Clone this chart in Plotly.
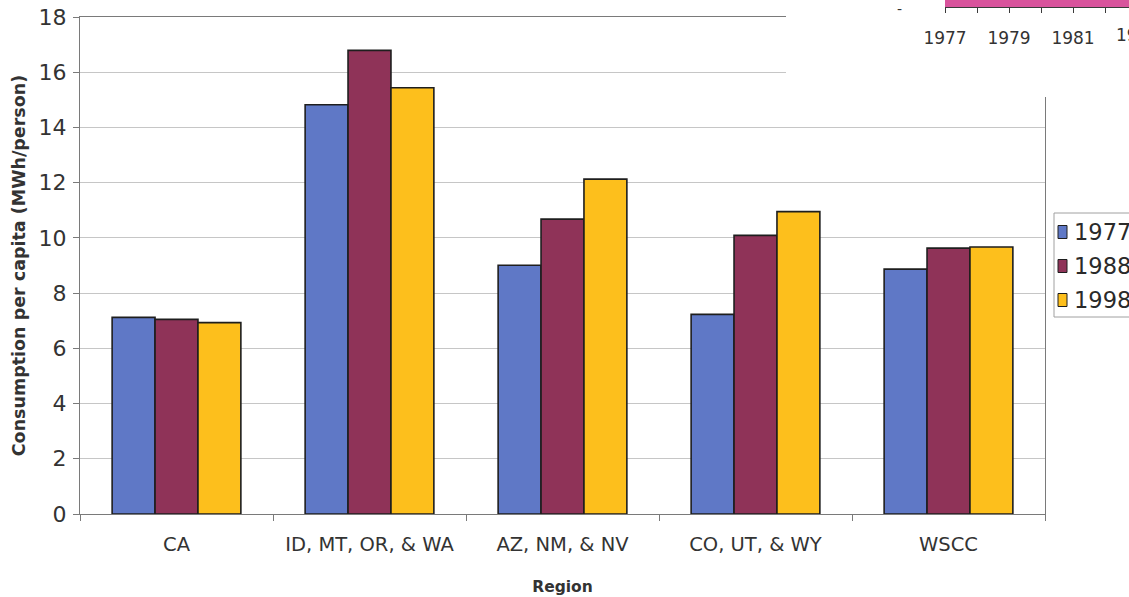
import plotly.graph_objects as go

# Per-capita electricity consumption by WSCC sub-region (MWh/person)
regions = ["CA", "ID, MT, OR, & WA", "AZ, NM, & NV", "CO, UT, & WY", "WSCC"]
years = ["1977", "1988", "1998"]
cons_1977 = [7.12, 14.82, 9.01, 7.23, 8.87]
cons_1988 = [7.05, 16.79, 10.68, 10.09, 9.63]
cons_1998 = [6.93, 15.44, 12.13, 10.95, 9.67]

# Neighbouring panel (annual series, only its lower strip shows)
inset_years = [1977, 1978, 1979, 1980, 1981, 1982, 1983]
inset_values = [3.1, 3.3, 3.2, 3.4, 3.5, 3.6, 3.7]
inset_ticktext = ["1977", "", "1979", "", "1981", "", "1983"]

colors = ["#5f78c6", "#8f3358", "#fdbf1c"]
series = [cons_1977, cons_1988, cons_1998]

W, H = 1129, 597
ML, MR, MT, MB = 80, 0, 0, 83
pw = W - ML - MR
ph = H - MT - MB


def px_x(x):
    return (x - ML) / pw


def px_y(y):
    return (H - MB - y) / ph


font_main = "DejaVu Sans"
text_col = "#333333"
axis_grey = "#7a7a7a"

fig = go.Figure()

for name, vals, col in zip(years, series, colors):
    fig.add_trace(go.Bar(
        x=regions, y=vals, name=name,
        marker=dict(color=col, line=dict(color="#1e1e1e", width=1.6)),
        xaxis="x", yaxis="y", showlegend=False,
    ))

# white page of the neighbouring panel
fig.add_trace(go.Scatter(x=[], y=[], xaxis="x2", yaxis="y2",
                         showlegend=False, hoverinfo="skip"))

# the neighbouring panel's filled series
fig.add_trace(go.Scatter(
    x=inset_years, y=inset_values, mode="lines",
    fill="tozeroy", fillcolor="#d8539c",
    line=dict(color="#d8539c", width=0),
    showlegend=False, xaxis="x3", yaxis="y3", hoverinfo="skip",
))

inset_dom = [px_x(945), 1]
inset_rng = [1977, 1982.75]


def inset_year_to_paper(yr):
    f = (yr - inset_rng[0]) / (inset_rng[1] - inset_rng[0])
    return inset_dom[0] + f * (inset_dom[1] - inset_dom[0])


annotations = []
shapes = []

# legend drawn as a boxed key
item_y = [232, 266, 300]
shapes.append(dict(type="rect", xref="paper", yref="paper",
                   x0=px_x(1054), x1=px_x(1140), y0=px_y(317), y1=px_y(213),
                   line=dict(color="#a0a0a0", width=1), fillcolor="white",
                   layer="below"))
for name, col, yc in zip(years, colors, item_y):
    shapes.append(dict(type="rect", xref="paper", yref="paper",
                       x0=px_x(1058), x1=px_x(1067),
                       y0=px_y(yc + 6.5), y1=px_y(yc - 6.5),
                       line=dict(color="#1e1e1e", width=1), fillcolor=col,
                       layer="above"))
    annotations.append(dict(text=name, xref="paper", yref="paper",
                            x=px_x(1072), y=px_y(yc), xanchor="left",
                            yanchor="middle", showarrow=False,
                            font=dict(family=font_main, size=22.5, color="#2a2a2a")))

# last year label of the neighbouring panel, running off the page
annotations.append(dict(text="1983", xref="paper", yref="paper",
                        x=inset_year_to_paper(1983), y=px_y(35),
                        xanchor="center", yanchor="middle", showarrow=False,
                        font=dict(family=font_main, size=17, color=text_col)))
annotations.append(dict(text="-", xref="paper", yref="paper",
                        x=px_x(904), y=px_y(-1), showarrow=False,
                        font=dict(family=font_main, size=14, color=text_col)))

fig.update_layout(
    width=W, height=H,
    margin=dict(l=ML, r=MR, t=MT, b=MB, autoexpand=False),
    paper_bgcolor="white", plot_bgcolor="white",
    barmode="group", bargap=0.333, bargroupgap=0,
    showlegend=False,
    xaxis=dict(
        domain=[0, px_x(1045)], type="category",
        showline=True, linecolor=axis_grey, linewidth=1.2, mirror=True,
        ticks="outside", ticklen=6, tickcolor=axis_grey, tickson="boundaries",
        showgrid=False, automargin=False,
        tickfont=dict(family=font_main, size=19.5, color=text_col),
        ticklabelstandoff=12,
        title=dict(text="<b>Region</b>", standoff=26,
                   font=dict(family=font_main, size=15.5, color=text_col)),
        anchor="y",
    ),
    yaxis=dict(
        domain=[0, px_y(17)], range=[0, 18], dtick=2,
        showline=True, linecolor=axis_grey, linewidth=1.2, mirror=True,
        ticks="outside", ticklen=6, tickcolor=axis_grey,
        showgrid=True, gridcolor="#c6c6c6", gridwidth=1,
        zeroline=False, automargin=False,
        tickfont=dict(family=font_main, size=22, color=text_col),
        ticklabelstandoff=2,
        title=dict(text="<b>Consumption per capita (MWh/person)</b>", standoff=8,
                   font=dict(family=font_main, size=17.5, color=text_col)),
        anchor="x",
    ),
    xaxis2=dict(domain=[px_x(786), 1], range=[0, 1], anchor="y2", visible=False),
    yaxis2=dict(domain=[px_y(97), 1], range=[0, 1], anchor="x2", visible=False),
    xaxis3=dict(
        domain=inset_dom, range=inset_rng, anchor="y3",
        showline=True, linecolor="#3a3a3a", linewidth=1.2,
        ticks="outside", ticklen=5, tickcolor="#3a3a3a",
        tickvals=inset_years, ticktext=inset_ticktext,
        showgrid=False, zeroline=False, automargin=False,
        tickfont=dict(family=font_main, size=17, color=text_col),
        ticklabelstandoff=10,
    ),
    yaxis3=dict(domain=[px_y(7), 1], range=[0, 1], anchor="x3",
                visible=False, showgrid=False, zeroline=False),
    shapes=shapes,
    annotations=annotations,
)

fig.write_html("out.html")
